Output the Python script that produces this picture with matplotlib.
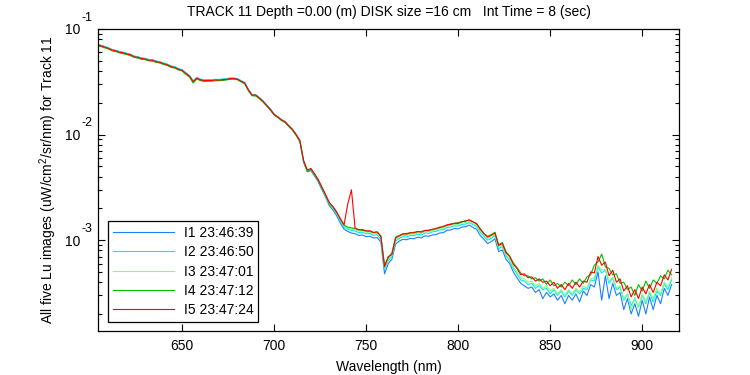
import numpy as np
import matplotlib
matplotlib.use("Agg")
import matplotlib.pyplot as plt
from matplotlib.ticker import LogLocator, FixedLocator, NullFormatter, FixedFormatter

plt.rcParams['font.family'] = ['Liberation Sans', 'DejaVu Sans']
plt.rcParams['mathtext.fontset'] = 'custom'
plt.rcParams['mathtext.rm'] = 'Liberation Sans'
plt.rcParams['mathtext.it'] = 'Liberation Sans:italic'
plt.rcParams['mathtext.default'] = 'regular'

# wavelengths 604..916 nm, 2 nm step; values in units of 1e-3 uW/cm^2/sr/nm
wavelength = np.arange(604, 917, 2)

i1 = [70.8, 69.5, 67.6, 65.9, 63.3, 62.4, 60.6, 59.8, 58.3, 57.2,
      54.9, 54.2, 52.8, 52.3, 50.9, 50.8, 49.3, 48.6, 47.2, 46.1,
      44.3, 43.6, 41.9, 40.9, 38.3, 36.0, 32.0, 34.4, 33.2, 32.6,
      32.8, 32.7, 33.1, 33.0, 33.3, 33.5, 34.1, 34.1, 33.7, 32.2,
      31.0, 26.7, 23.8, 23.7, 22.3, 20.7, 18.9, 17.3, 15.5, 14.6,
      13.7, 13.1, 12.0, 11.0, 9.8, 8.6, 5.5, 4.45, 4.55, 4.05,
      3.55, 3.0, 2.55, 2.12, 1.93, 1.70, 1.45, 1.27, 1.21, 1.17,
      1.15, 1.11, 1.12, 1.08, 1.09, 1.05, 1.06, 0.96, 0.48, 0.60,
      0.66, 0.92, 0.98, 1.02, 1.01, 1.04, 1.03, 1.07, 1.05, 1.10,
      1.09, 1.12, 1.13, 1.17, 1.18, 1.24, 1.25, 1.29, 1.28, 1.33,
      1.34, 1.39, 1.32, 1.27, 1.11, 1.02, 0.93, 0.97, 1.03, 0.78,
      0.81, 0.66, 0.60, 0.50, 0.44, 0.39, 0.37, 0.35, 0.36, 0.32,
      0.34, 0.28, 0.32, 0.29, 0.31, 0.27, 0.30, 0.25, 0.30, 0.27,
      0.31, 0.26, 0.33, 0.30, 0.38, 0.36, 0.50, 0.27, 0.46, 0.28,
      0.39, 0.30, 0.32, 0.22, 0.28, 0.20, 0.25, 0.19, 0.27, 0.20,
      0.29, 0.22, 0.30, 0.25, 0.35, 0.30, 0.38]

i2 = [71.5, 70.0, 68.3, 66.5, 64.0, 63.0, 61.3, 60.3, 58.9, 57.7,
      55.5, 54.7, 53.3, 52.8, 51.4, 51.2, 49.8, 49.0, 47.6, 46.5,
      44.7, 44.0, 42.2, 41.2, 38.6, 36.3, 32.4, 34.8, 33.6, 33.0,
      33.1, 33.0, 33.4, 33.3, 33.6, 33.8, 34.4, 34.4, 34.0, 32.5,
      31.3, 27.0, 24.0, 23.9, 22.5, 20.9, 19.1, 17.5, 15.7, 14.8,
      13.9, 13.3, 12.2, 11.2, 10.0, 8.75, 5.65, 4.55, 4.65, 4.15,
      3.64, 3.1, 2.62, 2.2, 2.0, 1.78, 1.52, 1.33, 1.27, 1.24,
      1.22, 1.18, 1.19, 1.15, 1.16, 1.11, 1.13, 1.02, 0.53, 0.64,
      0.70, 0.98, 1.04, 1.08, 1.07, 1.11, 1.10, 1.14, 1.12, 1.17,
      1.16, 1.20, 1.21, 1.25, 1.26, 1.32, 1.33, 1.37, 1.36, 1.41,
      1.42, 1.47, 1.40, 1.35, 1.19, 1.09, 1.00, 1.04, 1.10, 0.83,
      0.87, 0.71, 0.64, 0.54, 0.48, 0.42, 0.41, 0.38, 0.39, 0.35,
      0.37, 0.34, 0.35, 0.31, 0.34, 0.30, 0.33, 0.29, 0.33, 0.30,
      0.34, 0.31, 0.35, 0.34, 0.42, 0.41, 0.56, 0.49, 0.52, 0.39,
      0.44, 0.34, 0.36, 0.27, 0.31, 0.24, 0.28, 0.23, 0.30, 0.25,
      0.32, 0.26, 0.33, 0.30, 0.39, 0.34, 0.42]

i3 = [70.0, 68.8, 66.8, 65.2, 62.6, 61.7, 59.9, 59.0, 57.7, 56.5,
      54.3, 53.5, 52.2, 51.7, 50.3, 50.1, 48.7, 48.0, 46.6, 45.5,
      43.7, 43.0, 41.3, 40.3, 37.7, 35.5, 31.5, 34.0, 32.8, 32.2,
      32.4, 32.3, 32.7, 32.6, 32.9, 33.1, 33.7, 33.7, 33.3, 31.8,
      30.5, 26.3, 23.5, 23.4, 22.0, 20.4, 18.7, 17.1, 15.4, 14.6,
      13.7, 13.1, 12.0, 11.1, 9.9, 8.7, 5.6, 4.55, 4.7, 4.2,
      3.7, 3.14, 2.66, 2.23, 2.03, 1.81, 1.56, 1.37, 1.31, 1.28,
      1.26, 1.22, 1.22, 1.19, 1.19, 1.15, 1.16, 1.05, 0.55, 0.66,
      0.72, 1.01, 1.07, 1.11, 1.11, 1.14, 1.14, 1.17, 1.16, 1.20,
      1.20, 1.23, 1.25, 1.29, 1.31, 1.36, 1.38, 1.41, 1.41, 1.46,
      1.47, 1.51, 1.45, 1.39, 1.23, 1.12, 1.04, 1.07, 1.13, 0.86,
      0.90, 0.73, 0.66, 0.56, 0.50, 0.44, 0.43, 0.40, 0.41, 0.37,
      0.39, 0.35, 0.37, 0.33, 0.35, 0.31, 0.34, 0.30, 0.34, 0.31,
      0.35, 0.32, 0.37, 0.35, 0.43, 0.44, 0.58, 0.52, 0.53, 0.41,
      0.45, 0.35, 0.37, 0.28, 0.31, 0.22, 0.29, 0.23, 0.31, 0.26,
      0.33, 0.28, 0.35, 0.31, 0.40, 0.36, 0.44]

i4 = [69.0, 68.0, 66.2, 64.5, 62.0, 61.0, 59.4, 58.3, 57.2, 55.8,
      53.8, 53.0, 51.6, 51.2, 49.8, 49.6, 48.2, 47.6, 46.1, 45.0,
      43.3, 42.6, 41.0, 40.0, 37.2, 35.0, 30.8, 33.6, 32.4, 31.9,
      32.0, 32.1, 32.3, 32.4, 32.6, 32.9, 33.4, 33.5, 33.1, 31.6,
      30.2, 26.0, 23.3, 23.2, 21.9, 20.3, 18.6, 17.0, 15.3, 14.5,
      13.6, 13.0, 11.9, 11.0, 9.85, 8.6, 5.55, 4.5, 4.68, 4.18,
      3.68, 3.12, 2.66, 2.24, 2.05, 1.83, 1.58, 1.39, 1.33, 1.31,
      1.29, 1.26, 1.24, 1.23, 1.21, 1.19, 1.19, 1.10, 0.58, 0.68,
      0.76, 1.07, 1.11, 1.14, 1.16, 1.17, 1.19, 1.20, 1.21, 1.23,
      1.25, 1.26, 1.30, 1.31, 1.36, 1.38, 1.43, 1.44, 1.47, 1.49,
      1.53, 1.55, 1.50, 1.42, 1.29, 1.15, 1.09, 1.13, 1.19, 0.91,
      0.95, 0.78, 0.71, 0.61, 0.55, 0.49, 0.46, 0.46, 0.43, 0.44,
      0.41, 0.43, 0.38, 0.42, 0.37, 0.39, 0.36, 0.40, 0.37, 0.42,
      0.38, 0.43, 0.39, 0.45, 0.47, 0.58, 0.62, 0.74, 0.56, 0.54,
      0.47, 0.48, 0.39, 0.40, 0.34, 0.36, 0.30, 0.38, 0.33, 0.41,
      0.35, 0.42, 0.39, 0.46, 0.43, 0.52, 0.47]

i5 = [70.5, 69.2, 67.3, 65.6, 63.0, 62.1, 60.3, 59.5, 58.0, 56.9,
      54.6, 53.9, 52.5, 52.0, 50.6, 50.5, 49.0, 48.3, 46.9, 45.8,
      44.0, 43.3, 41.6, 40.6, 38.0, 35.8, 31.8, 34.2, 33.0, 32.4,
      32.6, 32.5, 32.9, 32.8, 33.1, 33.3, 33.9, 33.9, 33.5, 32.0,
      30.8, 26.5, 23.7, 23.6, 22.2, 20.6, 18.9, 17.3, 15.5, 14.7,
      13.8, 13.2, 12.1, 11.2, 10.0, 8.8, 5.7, 4.62, 4.78, 4.25,
      3.74, 3.18, 2.70, 2.27, 2.08, 1.85, 1.60, 1.40, 2.2, 3.0,
      1.30, 1.25, 1.26, 1.22, 1.23, 1.18, 1.20, 1.08, 0.56, 0.70,
      0.73, 1.05, 1.10, 1.15, 1.14, 1.18, 1.17, 1.21, 1.19, 1.24,
      1.23, 1.27, 1.28, 1.33, 1.34, 1.40, 1.41, 1.45, 1.44, 1.50,
      1.51, 1.56, 1.49, 1.44, 1.27, 1.16, 1.07, 1.11, 1.17, 0.89,
      0.93, 0.76, 0.70, 0.59, 0.54, 0.47, 0.48, 0.44, 0.45, 0.41,
      0.43, 0.40, 0.41, 0.37, 0.40, 0.35, 0.38, 0.34, 0.39, 0.35,
      0.40, 0.36, 0.41, 0.40, 0.50, 0.49, 0.70, 0.58, 0.62, 0.46,
      0.52, 0.40, 0.43, 0.33, 0.37, 0.29, 0.34, 0.28, 0.36, 0.31,
      0.38, 0.32, 0.40, 0.37, 0.47, 0.42, 0.53]

labels = ['I1 23:46:39', 'I2 23:46:50', 'I3 23:47:01', 'I4 23:47:12', 'I5 23:47:24']
colors = ['#1a80ff', '#00e8ff', '#80ff80', '#00c000', '#ff0000']
xticks = [650, 700, 750, 800, 850, 900]
yticks = [1e-3, 1e-2, 1e-1]
yexps = ['-3', '-2', '-1']

fig = plt.figure(figsize=(7.5, 3.75), dpi=100)
ax = fig.add_axes([0.1307, 0.1173, 0.7746, 0.8054])

for series, lab, col in zip([i1, i2, i3, i4, i5], labels, colors):
    ax.plot(wavelength, np.array(series) * 1e-3, color=col, lw=0.8, label=lab)

ax.set_yscale('log')
ax.set_xlim(604.3, 920)
ax.set_ylim(1.38e-4, 0.1)
ax.xaxis.set_major_locator(FixedLocator(xticks))
ax.yaxis.set_major_locator(FixedLocator(yticks))
ax.yaxis.set_major_formatter(FixedFormatter(['10'] * len(yticks)))
ax.yaxis.set_minor_locator(LogLocator(base=10, subs=np.arange(2, 10), numticks=20))
ax.yaxis.set_minor_formatter(NullFormatter())

ax.tick_params(which='both', direction='in', top=True, right=True, labelsize=10, width=0.8)
ax.tick_params(which='major', length=5)
ax.tick_params(which='minor', length=3)
ax.tick_params(axis='x', pad=6)
ax.tick_params(axis='y', pad=13)
for s in ax.spines.values():
    s.set_linewidth(0.9)

# exponent of the y tick labels, drawn above and right of the "10"
for yv, ex in zip(yticks, yexps):
    ax.annotate(ex, xy=(0, yv), xycoords=('axes fraction', 'data'),
                xytext=(-12, 8), textcoords='offset points',
                ha='left', va='center', fontsize=9, annotation_clip=False)

ax.set_title('TRACK 11 Depth =0.00 (m) DISK size =16 cm   Int Time = 8 (sec)', fontsize=10, pad=9)
ax.set_xlabel('Wavelength (nm)', fontsize=10, labelpad=5)
ax.set_ylabel('All five Lu images (uW/cm$^2$/sr/nm) for Track 11', fontsize=10, labelpad=4)

leg = ax.legend(loc='lower left', bbox_to_anchor=(0.017, 0.03), borderaxespad=0,
                fontsize=10, handlelength=4.4, labelspacing=0.38, fancybox=False,
                edgecolor='black', framealpha=1, borderpad=0.35, handletextpad=0.7)
leg.get_frame().set_linewidth(0.9)

fig.savefig('out.png', dpi=100)
